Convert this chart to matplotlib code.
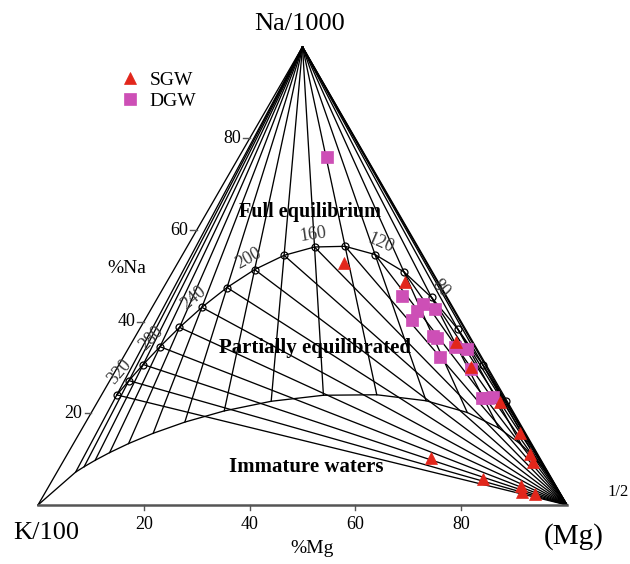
import numpy as np
import matplotlib.pyplot as plt

plt.rcParams['font.family'] = ['Liberation Serif', 'DejaVu Serif']

# full equilibrium temperatures (deg C) and the ones that carry a label
temps = [20, 40, 60, 80, 100, 120, 140, 160, 180, 200, 220, 240, 260, 280, 300, 320, 340]
temp_labels = [80, 120, 160, 200, 240, 280, 320]
mi_immature = 2.05  # maturity index of the lower boundary

# samples, read as %Na and %Mg (the rest is %K)
sgw_na = [52.8, 48.7, 35.6, 30.1, 22.5, 15.7, 11.1, 9.4, 10.3, 5.7, 4.1, 2.8, 2.4]
sgw_mg = [31.4, 45.0, 61.2, 66.8, 76.1, 83.3, 87.5, 88.9, 69.1, 81.3, 89.3, 90.1, 92.7]
dgw_na = [76.0, 45.6, 43.9, 42.8, 42.4, 40.4, 36.9, 36.5, 32.3, 34.5, 34.1, 29.7, 23.4, 23.4, 23.6]
dgw_mg = [16.6, 46.0, 50.8, 53.6, 50.4, 50.5, 56.2, 57.2, 59.8, 61.6, 64.0, 67.0, 72.2, 73.4, 74.2]

mg_ticks = [20, 40, 60, 80]
na_ticks = [20, 40, 60, 80]

S3 = np.sqrt(3) / 2


def tern(na, mg):
    na = np.asarray(na, dtype=float)
    mg = np.asarray(mg, dtype=float)
    return mg + na / 2, na * S3


def to_pct(a, b, c):
    # a = Na/1000, b = K/100, c = Mg^0.5
    s = a + b + c
    return 100 * a / s, 100 * c / s


def eq_point(t):
    tk = t + 273.15
    lnk = 1390 / tk - 1.75      # log(Na/K)
    lkm = 14.0 - 4410 / tk      # log(K^2/Mg)
    return to_pct(10 ** (lnk - 1), 1.0, 10 ** ((4 - lkm) / 2))


def mi_point(t, mi):
    tk = t + 273.15
    lkm = 14.0 - 4410 / tk
    lnk = mi - 0.315 * lkm
    return to_pct(10 ** (lnk - 1), 1.0, 10 ** ((4 - lkm) / 2))


fig = plt.figure(figsize=(6.3, 5.64), dpi=100)
ax = fig.add_axes([0, 0, 1, 1])
ax.set_xlim(-7.18, 111.9)
ax.set_ylim(-11.15, 95.46)
ax.axis('off')

top = tern(100, 0)
kc = tern(0, 0)
mgc = tern(0, 100)

eq = [tern(*eq_point(t)) for t in temps]
low = [tern(*mi_point(t, mi_immature)) for t in temps]

lw = 0.95
# triangle sides
ax.plot([kc[0], top[0], mgc[0]], [kc[1], top[1], mgc[1]], color='k', lw=lw)
ax.plot([kc[0], mgc[0]], [kc[1], mgc[1]], color='#555555', lw=1.8, zorder=3)

for (ex, ey), (lx, ly) in zip(eq, low):
    # K-Mg isotherm from Na vertex down to lower boundary
    ax.plot([top[0], lx], [top[1], ly], color='k', lw=lw)
    # Na-K isotherm from equilibrium point to Mg vertex
    ax.plot([ex, mgc[0]], [ey, mgc[1]], color='k', lw=lw)

# full equilibrium line
ex = [p[0] for p in eq]
ey = [p[1] for p in eq]
ax.plot(ex, ey, color='k', lw=lw)
ax.plot(ex, ey, 'o', ms=5, mfc='none', mec='k', mew=0.9, zorder=4)

# immature boundary
lx = [mgc[0]] + [p[0] for p in low] + [kc[0]]
ly = [mgc[1]] + [p[1] for p in low] + [kc[1]]
ax.plot(lx, ly, color='k', lw=lw)

# temperature labels along the curve
for t in temp_labels:
    i = temps.index(t)
    p0 = eq[min(i + 1, len(eq) - 1)]
    p1 = eq[max(i - 1, 0)]
    dx, dy = p1[0] - p0[0], p1[1] - p0[1]
    n = np.hypot(dx, dy)
    nx, ny = -dy / n, dx / n
    ang = np.degrees(np.arctan2(dy, dx))
    ax.text(eq[i][0] + 2.4 * nx, eq[i][1] + 2.4 * ny, str(t), rotation=ang,
            rotation_mode='anchor', ha='center', va='center', fontsize=13,
            color='#3a3a3a', zorder=5)

# bottom ticks
for v in mg_ticks:
    x, y = tern(0, v)
    ax.plot([x, x], [y, y - 1.0], color='#555555', lw=1.0)
    ax.text(x, y - 2.0, str(v), ha='center', va='top', fontsize=13)

# left ticks
for v in na_ticks:
    x, y = tern(v, 0)
    ax.plot([x - 1.2, x], [y, y], color='#555555', lw=1.0)
    ax.text(x - 1.6, y, str(v), ha='right', va='center', fontsize=13)

# samples
sx, sy = tern(sgw_na, sgw_mg)
dx_, dy_ = tern(dgw_na, dgw_mg)
ax.plot(dx_, dy_, 's', ms=8, color='#cd4fb6', mec='#cd4fb6', mew=0.5,
        label='DGW', zorder=6, linestyle='none')
ax.plot(sx, sy, '^', ms=8.5, color='#e2261b', mec='#e2261b', mew=0.5,
        label='SGW', zorder=7, linestyle='none')

h, l = ax.get_legend_handles_labels()
ax.legend(h[::-1], l[::-1], loc='upper left', bbox_to_anchor=(0.179, 0.888),
          frameon=False, fontsize=14, handlelength=1.0, handletextpad=0.5,
          labelspacing=0.2, borderaxespad=0)

# region and axis text
ax.text(51.4, 55.4, 'Full equilibrium', ha='center', va='center',
        fontsize=14.5, fontweight='bold')
ax.text(52.4, 29.7, 'Partially equilibrated', ha='center', va='center',
        fontsize=15, fontweight='bold')
ax.text(50.7, 7.2, 'Immature waters', ha='center', va='center',
        fontsize=15, fontweight='bold')

ax.text(49.5, 90.9, 'Na/1000', ha='center', va='center', fontsize=19)
ax.text(1.5, -5.2, 'K/100', ha='center', va='center', fontsize=19)
ax.text(101.3, -6.0, '(Mg)', ha='center', va='center', fontsize=21)
ax.text(109.6, 2.4, '1/2', ha='center', va='center', fontsize=12)
ax.text(16.8, 44.8, '%Na', ha='center', va='center', fontsize=14)
ax.text(51.8, -8.3, '%Mg', ha='center', va='center', fontsize=14)

fig.savefig('out.png', dpi=100)
